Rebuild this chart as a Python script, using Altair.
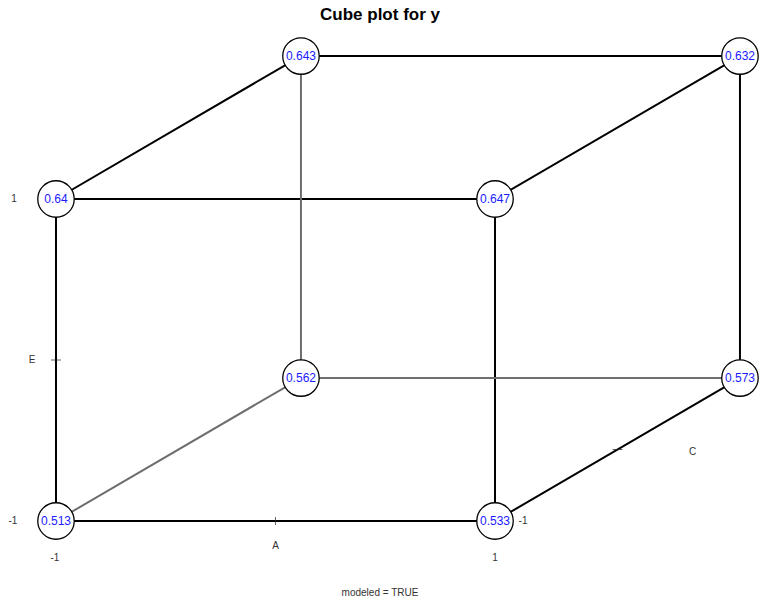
import altair as alt
import pandas as pd

# Cube corners: factor levels and the modeled response at each corner
A = [-1, 1, -1, 1, -1, 1, -1, 1]
E = [-1, -1, 1, 1, -1, -1, 1, 1]
C = [-1, -1, -1, -1, 1, 1, 1, 1]
yhat = [0.513, 0.533, 0.640, 0.647, 0.562, 0.573, 0.643, 0.632]

# Oblique projection of the C (depth) direction
DX, DY = 0.558, 0.444


def proj(a, e, c):
    return a + (c + 1) * DX, e + (c + 1) * DY


def fmt(v):
    s = f"{v:.3f}"
    return s.rstrip("0") if s.endswith("0") else s


corners = pd.DataFrame({"A": A, "E": E, "C": C, "y": yhat})
corners["X"], corners["Y"] = zip(*[proj(a, e, c) for a, e, c in zip(A, E, C)])
corners["label"] = [fmt(v) for v in yhat]

# Edges connect corners that differ in exactly one factor; edges touching the
# hidden back corner (A=-1, E=-1, C=1) are drawn in grey
hidden = (-1, -1, 1)
rows = []
pts = list(zip(A, E, C))
for i, p in enumerate(pts):
    for q in pts[i + 1:]:
        if sum(u != v for u, v in zip(p, q)) == 1:
            x1, y1 = proj(*p)
            x2, y2 = proj(*q)
            rows.append({"x": x1, "y": y1, "x2": x2, "y2": y2,
                         "kind": "hidden" if hidden in (p, q) else "visible"})
edges = pd.DataFrame(rows)

xs = alt.Scale(domain=[-1.2551, 2.2118], nice=False, zero=False)
ys = alt.Scale(domain=[-1.5093, 2.2360], nice=False, zero=False)
X = lambda f: alt.X(f, type="quantitative", scale=xs, axis=None)
Y = lambda f: alt.Y(f, type="quantitative", scale=ys, axis=None)

edge_layer = alt.Chart(edges).mark_rule(strokeWidth=2).encode(
    x=X("x"), y=Y("y"), x2="x2", y2="y2",
    color=alt.Color("kind:N", scale=alt.Scale(domain=["visible", "hidden"],
                                              range=["#000000", "#6e6e6e"]), legend=None),
)

circle_layer = alt.Chart(corners).mark_point(
    shape="circle", size=1330, filled=True, fill="white", stroke="black",
    strokeWidth=1.3, opacity=1,
).encode(x=X("X"), y=Y("Y"))

value_layer = alt.Chart(corners).mark_text(
    font="Liberation Sans", fontSize=12, color="#1a1aff", baseline="middle", align="center",
).encode(x=X("X"), y=Y("Y"), text="label:N")

# Axis ticks at the midpoints of the front edges
ticks = pd.DataFrame([
    dict(zip(("x", "y"), proj(0, -1, -1)), orient="v"),
    dict(zip(("x", "y"), proj(-1, 0, -1)), orient="h"),
    dict(zip(("x", "y"), proj(1, -1, 0)), orient="h"),
])
tick_v = alt.Chart(ticks[ticks.orient == "v"]).mark_tick(
    orient="vertical", size=8, thickness=1, color="#222").encode(x=X("x"), y=Y("y"))
tick_h = alt.Chart(ticks[ticks.orient == "h"]).mark_tick(
    orient="horizontal", size=10, thickness=1, color="#222").encode(x=X("x"), y=Y("y"))

# Factor labels and level labels, anchored to cube points with pixel offsets
labels = []


def add(text, point, dx, dy):
    x, y = proj(*point)
    labels.append({"x": x, "y": y, "text": text, "dx": dx, "dy": dy})


add("-1", (-1, -1, -1), -43, 0)
add("1", (-1, 1, -1), -42, 0)
add("E", (-1, 0, -1), -24, 0)
add("-1", (-1, -1, -1), -1, 37)
add("1", (1, -1, -1), 0, 37)
add("A", (0, -1, -1), 0, 25)
add("-1", (1, -1, -1), 28, 0)
add("C", (1, -1, 0), 75, 2)
lab = pd.DataFrame(labels)

label_layers = [
    alt.Chart(lab.iloc[[i]]).mark_text(
        font="Liberation Sans", fontSize=10, color="#333333",
        dx=int(r.dx), dy=int(r.dy), baseline="middle",
    ).encode(x=X("x"), y=Y("y"), text="text:N")
    for i, r in lab.iterrows()
]

title = alt.Chart(pd.DataFrame({"t": ["Cube plot for y"]})).mark_text(
    font="Liberation Sans", fontSize=17, fontWeight="bold", color="black",
    baseline="middle",
).encode(x=alt.value(380), y=alt.value(15), text="t:N")

footer = alt.Chart(pd.DataFrame({"t": ["modeled = TRUE"]})).mark_text(
    font="Liberation Sans", fontSize=10, color="#333333", baseline="middle",
).encode(x=alt.value(380), y=alt.value(593), text="t:N")

chart = alt.layer(
    edge_layer, tick_v, tick_h, circle_layer, value_layer, *label_layers, title, footer
).properties(
    width=761, height=603, autosize=alt.AutoSizeParams(type="none"), padding=0,
    background="white",
).configure_view(stroke=None)

chart.save("out.html", embed_options={"renderer": "svg", "actions": False})
